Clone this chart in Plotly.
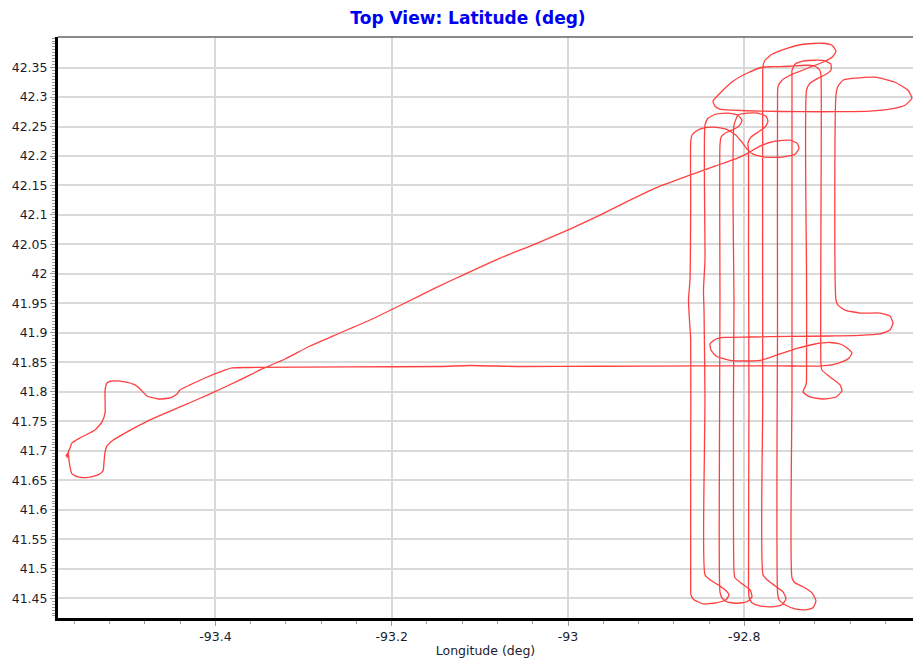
import plotly.graph_objects as go

# Flight track, split into legs: (longitude, latitude) in degrees
outbound = [
    (-93.5661, 41.6983), (-93.5695, 41.6915), (-93.5672, 41.6966), (-93.5661, 41.6847),
    (-93.5650, 41.6729), (-93.5627, 41.6610), (-93.5559, 41.6559), (-93.5445, 41.6551),
    (-93.5332, 41.6593), (-93.5275, 41.6661), (-93.5264, 41.6813), (-93.5252, 41.6983),
    (-93.5230, 41.7084), (-93.5173, 41.7169), (-93.5082, 41.7254), (-93.4742, 41.7525),
    (-93.4402, 41.7745), (-93.4061, 41.7965), (-93.3721, 41.8203), (-93.3471, 41.8389),
    (-93.3210, 41.8558), (-93.2927, 41.8778), (-93.2587, 41.8999), (-93.2246, 41.9219),
    (-93.1849, 41.9507), (-93.1509, 41.9761), (-93.1168, 41.9998), (-93.0771, 42.0269),
    (-93.0374, 42.0506), (-92.9977, 42.0761), (-92.9637, 42.0998), (-92.9297, 42.1252),
    (-92.8956, 42.1489), (-92.8616, 42.1675), (-92.8332, 42.1828), (-92.8049, 42.1980),
    (-92.7958, 42.2048), (-92.7822, 42.2167), (-92.7652, 42.2251), (-92.7482, 42.2268),
    (-92.7402, 42.2218), (-92.7379, 42.2133), (-92.7425, 42.2031), (-92.7572, 42.1980),
    (-92.7765, 42.1980), (-92.7901, 42.2031), (-92.7969, 42.2116), (-92.8026, 42.2234),
    (-92.8094, 42.2353), (-92.8208, 42.2455), (-92.8344, 42.2489), (-92.8469, 42.2472),
    (-92.8548, 42.2421), (-92.8593, 42.2353), (-92.8608, 42.2234),
]

survey = [
    # line A (south)
    (-92.8608, 42.1250), (-92.8616, 41.9900), (-92.8633, 41.9558), (-92.8622, 41.9219),
    (-92.8608, 41.8880), (-92.8608, 41.7020), (-92.8608, 41.4678),
    (-92.8605, 41.4560), (-92.8571, 41.4475), (-92.8469, 41.4407), (-92.8321, 41.4424),
    (-92.8208, 41.4475), (-92.8174, 41.4560), (-92.8219, 41.4644), (-92.8298, 41.4729),
    (-92.8389, 41.4814), (-92.8446, 41.4899),
    # line B (north)
    (-92.8452, 41.7020), (-92.8446, 41.7863), (-92.8457, 41.9388), (-92.8463, 41.9727),
    (-92.8446, 42.0236), (-92.8446, 42.2523),
    (-92.8412, 42.2641), (-92.8321, 42.2709), (-92.8185, 42.2726), (-92.8071, 42.2692),
    (-92.8026, 42.2607), (-92.8060, 42.2506), (-92.8140, 42.2438), (-92.8219, 42.2387),
    (-92.8264, 42.2319), (-92.8276, 42.2184),
    # line C (south)
    (-92.8276, 41.9558), (-92.8282, 41.7000), (-92.8276, 41.4610),
    (-92.8253, 41.4509), (-92.8196, 41.4441), (-92.8083, 41.4416), (-92.7969, 41.4441),
    (-92.7913, 41.4526), (-92.7935, 41.4644), (-92.8026, 41.4746), (-92.8105, 41.4848),
    (-92.8117, 41.4950),
    # line D (north)
    (-92.8123, 41.7863), (-92.8117, 41.9558), (-92.8128, 42.1252), (-92.8117, 42.2523),
    (-92.8071, 42.2692), (-92.7969, 42.2726), (-92.7845, 42.2726), (-92.7754, 42.2675),
    (-92.7731, 42.2590), (-92.7765, 42.2489), (-92.7845, 42.2404), (-92.7924, 42.2319),
    (-92.7958, 42.2218), (-92.7952, 42.2099),
    # line E (south)
    (-92.7952, 42.0500), (-92.7947, 41.7863), (-92.7952, 41.4678),
    (-92.7947, 41.4526), (-92.7913, 41.4424), (-92.7822, 41.4373), (-92.7686, 41.4356),
    (-92.7572, 41.4390), (-92.7527, 41.4492), (-92.7561, 41.4610), (-92.7652, 41.4712),
    (-92.7742, 41.4814), (-92.7788, 41.4899),
    # line F (north)
    (-92.7791, 41.7863), (-92.7791, 42.3420),
    (-92.7788, 42.3522), (-92.7765, 42.3624), (-92.7686, 42.3725), (-92.7516, 42.3827),
    (-92.7334, 42.3895), (-92.7119, 42.3912), (-92.7005, 42.3878), (-92.6960, 42.3776),
    (-92.7005, 42.3674), (-92.7085, 42.3607), (-92.7164, 42.3556), (-92.7255, 42.3505),
    (-92.7368, 42.3437), (-92.7482, 42.3370), (-92.7572, 42.3285), (-92.7617, 42.3183),
    (-92.7623, 42.3031),
    # line G (south)
    (-92.7623, 41.9000), (-92.7629, 41.7000), (-92.7623, 41.4610),
    (-92.7606, 41.4475), (-92.7538, 41.4390), (-92.7425, 41.4322), (-92.7311, 41.4305),
    (-92.7221, 41.4339), (-92.7187, 41.4458), (-92.7232, 41.4593), (-92.7334, 41.4695),
    (-92.7425, 41.4763), (-92.7459, 41.4848),
    # line H (north)
    (-92.7459, 41.8000), (-92.7459, 42.3370),
    (-92.7459, 42.3454), (-92.7425, 42.3556), (-92.7334, 42.3607), (-92.7198, 42.3624),
    (-92.7085, 42.3615), (-92.7017, 42.3556), (-92.7017, 42.3454), (-92.7073, 42.3387),
    (-92.7164, 42.3319), (-92.7255, 42.3234), (-92.7294, 42.3115),
    # line I (south)
    (-92.7294, 42.0000), (-92.7294, 41.8203),
    (-92.7300, 41.8118), (-92.7334, 41.7999), (-92.7255, 41.7914), (-92.7107, 41.7880),
    (-92.6960, 41.7914), (-92.6892, 41.8016), (-92.6914, 41.8118), (-92.7028, 41.8253),
    (-92.7119, 41.8372), (-92.7130, 41.8457),
    # line J (north)
    (-92.7130, 42.1000), (-92.7130, 42.3370),
    (-92.7142, 42.3454), (-92.7198, 42.3522), (-92.7311, 42.3539), (-92.7482, 42.3522),
    (-92.7674, 42.3514), (-92.7799, 42.3505), (-92.7969, 42.3403), (-92.8128, 42.3268),
    (-92.8276, 42.3065), (-92.8355, 42.2929), (-92.8332, 42.2844), (-92.8276, 42.2794),
    (-92.8128, 42.2777), (-92.7822, 42.2760), (-92.7368, 42.2751), (-92.6914, 42.2751),
    (-92.6574, 42.2760), (-92.6347, 42.2794), (-92.6177, 42.2861), (-92.6098, 42.2980),
    (-92.6143, 42.3115), (-92.6290, 42.3251), (-92.6517, 42.3336), (-92.6744, 42.3319),
    (-92.6880, 42.3285), (-92.6937, 42.3183), (-92.6960, 42.3031),
    # line K (south) and exit turns
    (-92.6960, 41.9558),
    (-92.6937, 41.9473), (-92.6858, 41.9388), (-92.6687, 41.9337), (-92.6461, 41.9337),
    (-92.6347, 41.9287), (-92.6313, 41.9168), (-92.6347, 41.9050), (-92.6461, 41.8982),
    (-92.6687, 41.8957), (-92.7028, 41.8948), (-92.7482, 41.8940), (-92.7935, 41.8931),
    (-92.8219, 41.8923), (-92.8321, 41.8897), (-92.8389, 41.8812), (-92.8378, 41.8711),
    (-92.8321, 41.8609), (-92.8162, 41.8533), (-92.7992, 41.8524), (-92.7822, 41.8533),
    (-92.7629, 41.8626), (-92.7402, 41.8736), (-92.7198, 41.8812), (-92.7028, 41.8838),
    (-92.6914, 41.8812), (-92.6835, 41.8745), (-92.6778, 41.8660), (-92.6812, 41.8575),
    (-92.6892, 41.8508), (-92.7005, 41.8457), (-92.7130, 41.8440),
]

inbound = [
    (-92.7596, 41.8440), (-92.8503, 41.8440), (-92.9637, 41.8435), (-93.0545, 41.8431),
    (-93.1112, 41.8448), (-93.1452, 41.8431), (-93.2473, 41.8423), (-93.3608, 41.8414),
    (-93.3812, 41.8406), (-93.3948, 41.8338), (-93.4118, 41.8236), (-93.4288, 41.8118),
    (-93.4402, 41.8033), (-93.4436, 41.7965), (-93.4515, 41.7897), (-93.4651, 41.7880),
    (-93.4776, 41.7931), (-93.4855, 41.8050), (-93.4912, 41.8118), (-93.5026, 41.8169),
    (-93.5162, 41.8186), (-93.5230, 41.8152), (-93.5252, 41.8033), (-93.5252, 41.7643),
    (-93.5286, 41.7491), (-93.5366, 41.7355), (-93.5536, 41.7220), (-93.5627, 41.7135),
    (-93.5650, 41.7050), (-93.5672, 41.6966), (-93.5683, 41.6880),
]

x_tick_labels = ["-93.4", "-93.2", "-93", "-92.8"]
y_tick_labels = ["41.45", "41.5", "41.55", "41.6", "41.65", "41.7", "41.75", "41.8",
                 "41.85", "41.9", "41.95", "42", "42.05", "42.1", "42.15", "42.2",
                 "42.25", "42.3", "42.35"]

track = outbound + survey + inbound
lon = [p[0] for p in track]
lat = [p[1] for p in track]

tick_font = dict(family="DejaVu Sans", size=12.5, color="#1c1c30")

fig = go.Figure(go.Scatter(
    x=lon, y=lat, mode="lines",
    line=dict(color="rgba(255,30,30,0.85)", width=1.3, shape="spline", smoothing=0.5),
    hoverinfo="skip",
))

fig.update_layout(
    width=913, height=664,
    margin=dict(l=58, r=0, t=37, b=46),
    paper_bgcolor="white", plot_bgcolor="white",
    showlegend=False,
    title=dict(text="<b>Top View: Latitude (deg)</b>", x=468 / 913, xanchor="center",
               y=1 - 18 / 664, yanchor="middle",
               font=dict(family="DejaVu Sans", size=17, color="#0000f0")),
    shapes=[dict(type="line", xref="paper", yref="paper", x0=0, x1=1, y0=1, y1=1,
                 line=dict(color="#8a8a8a", width=2))],
)

fig.update_xaxes(
    range=[-93.5786, -92.6086],
    tickvals=[float(t) for t in x_tick_labels], ticktext=x_tick_labels,
    ticks="outside", ticklen=5, tickcolor="#9a9a9a", tickfont=tick_font,
    minor=dict(dtick=0.04, tick0=-93.4, ticks="outside", ticklen=3, tickcolor="#9a9a9a",
               showgrid=False),
    showgrid=True, gridcolor="#d9d9d9", gridwidth=1.5, zeroline=False,
    showline=True, linecolor="black", linewidth=3,
    title=dict(text="Longitude (deg)", standoff=4,
               font=dict(family="DejaVu Sans", size=12.5, color="#1c1c30")),
)

fig.update_yaxes(
    range=[41.4166, 42.4018],
    tickvals=[float(t) for t in y_tick_labels], ticktext=y_tick_labels,
    ticks="outside", ticklen=5, tickcolor="#9a9a9a", tickfont=tick_font,
    minor=dict(dtick=0.005, tick0=41.45, ticks="outside", ticklen=3, tickcolor="#9a9a9a",
               showgrid=False),
    showgrid=True, gridcolor="#d9d9d9", gridwidth=1.5, zeroline=False,
    showline=True, linecolor="black", linewidth=3,
)

fig.write_html("out.html", config={"displayModeBar": False})
